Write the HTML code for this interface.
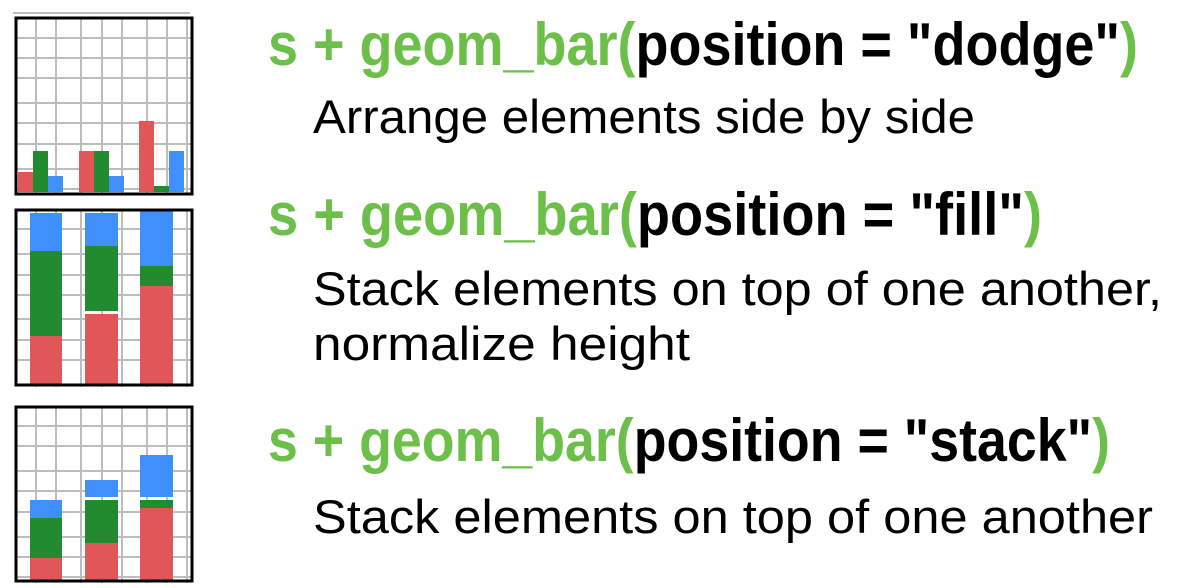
<!DOCTYPE html>
<html><head><meta charset="utf-8"><style>
html,body{margin:0;padding:0;background:#fff;}
svg{display:block;}
.t{font-family:"Liberation Sans",sans-serif;font-weight:bold;font-size:60px;fill:#000;}
.g{fill:#6cc04a;}
.d{font-family:"Liberation Sans",sans-serif;font-size:47px;fill:#000;}
</style></head><body>
<svg width="1180" height="588" viewBox="0 0 1180 588" xmlns="http://www.w3.org/2000/svg">
<g stroke="#bdbdbd" stroke-width="2" fill="none">
<line x1="13" y1="13" x2="190" y2="13"/>
<path d="M36 17V194M56 17V194M81 17V194M102 17V194M122 17V194M147 17V194M167 17V194M187 17V194
M15 38H192M15 58H192M15 78H192M15 103H192M15 123H192M15 144H192M15 169H192M15 189H192"/>
<path d="M36 209V387M56 209V387M81 209V387M102 209V387M122 209V387M147 209V387M167 209V387M187 209V387
M15 229H192M15 254H192M15 275H192M15 295H192M15 319H192M15 340H192M15 360H192"/>
<path d="M36 406V583M56 406V583M81 406V583M102 406V583M122 406V583M147 406V583M167 406V583M187 406V583
M15 426H192M15 446H192M15 471H192M15 491H192M15 512H192M15 537H192M15 557H192M15 577H192"/>
</g>
<rect x="18" y="172" width="15" height="20" fill="#e15759"/>
<rect x="33" y="151" width="15" height="41" fill="#228b2f"/>
<rect x="48" y="176" width="15" height="16" fill="#3f8ffc"/>
<rect x="79" y="151" width="15" height="41" fill="#e15759"/>
<rect x="94" y="151" width="15" height="41" fill="#228b2f"/>
<rect x="109" y="176" width="15" height="16" fill="#3f8ffc"/>
<rect x="139" y="121" width="15" height="71" fill="#e15759"/>
<rect x="154" y="186" width="15" height="6" fill="#228b2f"/>
<rect x="169" y="151" width="15" height="41" fill="#3f8ffc"/>
<rect x="30" y="213" width="32" height="38" fill="#3f8ffc"/>
<rect x="30" y="251" width="32" height="85" fill="#228b2f"/>
<rect x="30" y="336" width="32" height="48" fill="#e15759"/>
<rect x="85" y="213" width="33" height="33" fill="#3f8ffc"/>
<rect x="85" y="246" width="33" height="65" fill="#228b2f"/>
<rect x="85" y="314" width="33" height="70" fill="#e15759"/>
<rect x="140" y="210" width="33" height="56" fill="#3f8ffc"/>
<rect x="140" y="266" width="33" height="20" fill="#228b2f"/>
<rect x="140" y="286" width="33" height="98" fill="#e15759"/>
<rect x="30" y="500" width="32" height="18" fill="#3f8ffc"/>
<rect x="30" y="518" width="32" height="40" fill="#228b2f"/>
<rect x="30" y="558" width="32" height="23" fill="#e15759"/>
<rect x="85" y="480" width="33" height="17" fill="#3f8ffc"/>
<rect x="85" y="500" width="33" height="43" fill="#228b2f"/>
<rect x="85" y="543" width="33" height="38" fill="#e15759"/>
<rect x="140" y="455" width="33" height="42" fill="#3f8ffc"/>
<rect x="140" y="500" width="33" height="8" fill="#228b2f"/>
<rect x="140" y="508" width="33" height="73" fill="#e15759"/>
<g fill="none" stroke="#000" stroke-width="3">
<rect x="16" y="18" width="176" height="176"/>
<rect x="16" y="210" width="176" height="175"/>
<rect x="16" y="407" width="176" height="174"/>
</g>
<text class="t" x="268" y="65" textLength="870" lengthAdjust="spacingAndGlyphs"><tspan class="g">s + geom_bar(</tspan>position = "dodge"<tspan class="g">)</tspan></text>
<text class="d" x="313" y="133" textLength="662" lengthAdjust="spacingAndGlyphs">Arrange elements side by side</text>
<text class="t" x="268" y="235" textLength="774" lengthAdjust="spacingAndGlyphs"><tspan class="g">s + geom_bar(</tspan>position = "fill"<tspan class="g">)</tspan></text>
<text class="d" x="313" y="305" textLength="849" lengthAdjust="spacingAndGlyphs">Stack elements on top of one another,</text>
<text class="d" x="313" y="360" textLength="377" lengthAdjust="spacingAndGlyphs">normalize height</text>
<text class="t" x="268" y="461" textLength="842" lengthAdjust="spacingAndGlyphs"><tspan class="g">s + geom_bar(</tspan>position = "stack"<tspan class="g">)</tspan></text>
<text class="d" x="313" y="533" textLength="840" lengthAdjust="spacingAndGlyphs">Stack elements on top of one another</text>
</svg>
</body></html>
